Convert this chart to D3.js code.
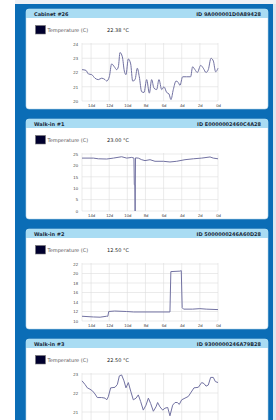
<!DOCTYPE html>
<html>
<head>
<meta charset="utf-8">
<script src="https://cdn.jsdelivr.net/npm/d3@7"></script>
<style>
   html, body { margin: 0; padding: 0; background: #fff; }
   svg { display: block; font-family: "DejaVu Sans", Verdana, sans-serif; }
</style>
</head>
<body>
<div id="chart"></div>
<script>
// sensor panels
const titles = ["Cabinet #26", "Walk-in #1", "Walk-in #2", "Walk-in #3"];
const sensorIds = ["ID 9A000001D0A89428", "ID E0000002460C4A28", "ID 5000000246A60D28", "ID 9300000246A79B28"];
const readings = ["22.38 °C", "23.00 °C", "12.50 °C", "22.50 °C"];
const yDomains = [[20, 24], [0, 25], [10, 22], [20, 23]];
const yTicks = [[20, 21, 22, 23, 24], [0, 5, 10, 15, 20, 25], [10, 12, 14, 16, 18, 20, 22], [20, 21, 22, 23]];
const xTicks = [14, 12, 10, 8, 6, 4, 2, 0];

// days ago / temperature (C)
const cab26Days = [15, 14.56, 14.3, 13.93, 13.57, 13.2, 12.83, 12.46, 12.28, 11.99, 11.73, 11.43, 11.18, 10.99, 10.81, 10.55, 10.33, 10.15, 9.89, 9.63, 9.41, 9.15, 8.9, 8.68, 8.42, 8.16, 7.87, 7.57, 7.32, 7.06, 6.77, 6.51, 6.21, 5.96, 5.66, 5.41, 5.19, 4.93, 4.63, 4.38, 4.19, 3.9, 3.46, 3.02, 2.8, 2.54, 2.28, 1.91, 1.62, 1.32, 1.07, 0.77, 0.51, 0.26, 0];
const cab26Temps = [22.2, 22.15, 21.9, 21.85, 21.6, 21.5, 21.6, 21.5, 21.4, 21.7, 22.6, 22.4, 22.2, 22.4, 23.4, 23.1, 22.1, 21.85, 22.95, 22.6, 21.4, 21.5, 22.3, 21.7, 20.65, 20.6, 21.5, 20.55, 21.5, 20.9, 20.8, 21.5, 20.8, 21.0, 20.6, 20.5, 20.1, 20.8, 21.4, 21.3, 21.1, 21.7, 21.7, 21.7, 22.4, 22.2, 22.0, 22.5, 22.3, 22.0, 22.2, 23.0, 22.8, 22.05, 22.3];

const walk1Days = [15, 13.75, 13.2, 12.28, 11.54, 10.63, 10.07, 9.52, 9.27, 9.23, 9.17, 9.14, 9.1, 8.79, 8.42, 8.05, 7.5, 6.95, 6.03, 5.3, 4.56, 3.64, 2.72, 1.8, 0.88, 0.52, 0];
const walk1Temps = [23.2, 23.2, 22.9, 22.8, 23.2, 23.8, 23.2, 23.5, 23.2, 11.5, 11.5, 0, 23.3, 23.2, 22.5, 22.1, 22.5, 21.8, 21.8, 21.5, 21.8, 22.5, 22.9, 23.2, 23.7, 23.2, 22.9];

const walk2Days = [15, 13.75, 13.0, 12.3, 12.15, 12.05, 11.4, 10.1, 9.3, 5.3, 5.2, 4.2, 4.05, 3.95, 3.8, 2.8, 2.0, 1.3, 0];
const walk2Temps = [11.0, 10.85, 10.8, 11.0, 11.0, 12.0, 12.1, 12.0, 11.9, 11.9, 20.4, 20.5, 20.6, 12.8, 12.5, 12.5, 12.6, 12.5, 12.4];

const walk3Days = [15, 14.67, 14.41, 14.12, 13.82, 13.57, 13.31, 12.83, 12.46, 12.28, 12.1, 11.84, 11.36, 11.1, 10.88, 10.63, 10.37, 10.15, 9.89, 9.63, 9.34, 9.04, 8.79, 8.53, 8.24, 7.94, 7.68, 7.43, 7.13, 6.84, 6.66, 6.4, 6.1, 5.85, 5.55, 5.3, 5.0, 4.74, 4.49, 4.27, 4.01, 3.64, 3.27, 3.02, 2.65, 2.17, 1.8, 1.55, 1.32, 1.07, 0.81, 0.52, 0.29, 0];
const walk3Temps = [22.64, 22.45, 22.27, 22.2, 22.1, 21.95, 21.76, 21.76, 21.73, 21.64, 21.8, 22.27, 22.3, 22.45, 22.9, 22.95, 22.64, 22.27, 22.55, 22.1, 21.64, 21.73, 21.9, 21.55, 21.1, 21.36, 21.73, 21.45, 21.04, 21.27, 21.5, 21.27, 21.1, 21.2, 21.24, 20.8, 21.36, 21.5, 21.5, 21.4, 21.64, 21.73, 21.82, 22.0, 22.27, 22.3, 22.55, 22.5, 22.36, 22.42, 22.82, 22.82, 22.6, 22.55];

const seriesDays = [cab26Days, walk1Days, walk2Days, walk3Days];
const seriesTemps = [cab26Temps, walk1Temps, walk2Temps, walk3Temps];
const curves = [d3.curveMonotoneX, d3.curveLinear, d3.curveLinear, d3.curveLinear];

const Width = 276, Height = 420;
const PanelLeft = 26, PanelRight = 268, PanelHeight = 100, PanelStep = 110, FirstTop = 9;
const PlotLeft = 82, PlotRight = 218, PlotTop = 35, PlotBottom = 92;

const svg = d3.select("#chart").append("svg")
   .attr("width", Width)
   .attr("height", Height);

// page frame
svg.append("rect").attr("x", 15).attr("y", 0).attr("width", 258).attr("height", Height).attr("fill", "#0b6db6");
svg.append("rect").attr("x", 15).attr("y", 0).attr("width", 261).attr("height", 4).attr("fill", "#eef1f5");
svg.append("rect").attr("x", 273).attr("y", 4).attr("width", 3).attr("height", Height).attr("fill", "#dfe6ee");

const x = d3.scaleLinear().domain([15, 0]).range([PlotLeft, PlotRight]);

titles.forEach(function(title, i) {
   const top = FirstTop + i * PanelStep;
   const g = svg.append("g").attr("transform", "translate(0," + top + ")");

   g.append("clipPath").attr("id", "panelclip" + i)
      .append("rect")
      .attr("x", PanelLeft).attr("y", 0)
      .attr("width", PanelRight - PanelLeft).attr("height", PanelHeight);

   g.append("rect")
      .attr("x", PanelLeft).attr("y", 0)
      .attr("width", PanelRight - PanelLeft).attr("height", PanelHeight)
      .attr("rx", 3)
      .attr("fill", "#fff")
      .attr("stroke", "#b9d6ea")
      .attr("stroke-width", 0.6);

   // header bar
   g.append("path")
      .attr("d", "M" + PanelLeft + ",9 V3 Q" + PanelLeft + ",0 " + (PanelLeft + 3) + ",0 H" + (PanelRight - 3) +
         " Q" + PanelRight + ",0 " + PanelRight + ",3 V9 Z")
      .attr("fill", "#a9dcf3");

   g.append("text")
      .attr("x", 34).attr("y", 6.6)
      .attr("font-size", 5).attr("font-weight", "bold").attr("fill", "#1a2a3a")
      .text(title);

   g.append("text")
      .attr("x", 261).attr("y", 6.6)
      .attr("text-anchor", "end")
      .attr("font-size", 5).attr("font-weight", "bold").attr("fill", "#1a2a3a")
      .text(sensorIds[i]);

   // legend
   g.append("rect")
      .attr("x", 35.5).attr("y", 16.5).attr("width", 10).attr("height", 8.5)
      .attr("fill", "#00002e").attr("stroke", "#777").attr("stroke-width", 0.6);

   g.append("text")
      .attr("x", 47.5).attr("y", 23)
      .attr("font-size", 5).attr("fill", "#555")
      .text("Temperature (C)");

   g.append("text")
      .attr("x", 107).attr("y", 23)
      .attr("font-size", 5).attr("fill", "#222")
      .text(readings[i]);

   const y = d3.scaleLinear().domain(yDomains[i]).range([PlotBottom, PlotTop]);

   const plot = g.append("g").attr("clip-path", "url(#panelclip" + i + ")");

   // grid
   plot.append("g")
      .selectAll("line")
      .data(yTicks[i])
      .join("line")
      .attr("x1", PlotLeft).attr("x2", PlotRight)
      .attr("y1", d => y(d)).attr("y2", d => y(d))
      .attr("stroke", "#dedede").attr("stroke-width", 0.6);

   plot.append("g")
      .selectAll("line")
      .data([15].concat(xTicks))
      .join("line")
      .attr("x1", d => x(d)).attr("x2", d => x(d))
      .attr("y1", PlotTop - 1).attr("y2", PlotBottom)
      .attr("stroke", "#dedede").attr("stroke-width", 0.6);

   // axes labels, skipping ones that fall below the window
   const visible = v => top + v < Height - 3;

   const yAxis = d3.axisLeft(y)
      .tickValues(yTicks[i].filter(t => visible(y(t) + 2)))
      .tickFormat(d3.format("d"))
      .tickSize(0).tickPadding(4);
   plot.append("g")
      .attr("transform", "translate(" + PlotLeft + ",0)")
      .call(yAxis)
      .call(a => a.select(".domain").remove())
      .call(a => a.selectAll("text").attr("font-size", 4.2).attr("fill", "#444").attr("font-family", null));

   if (visible(PlotBottom + 6)) {
      const xAxis = d3.axisBottom(x).tickValues(xTicks).tickSize(0).tickPadding(3).tickFormat(d => d + "d");
      plot.append("g")
         .attr("transform", "translate(0," + PlotBottom + ")")
         .call(xAxis)
         .call(a => a.select(".domain").remove())
         .call(a => a.selectAll("text").attr("font-size", 4.2).attr("fill", "#444").attr("font-family", null));
   }

   // series
   const pts = seriesDays[i].map((d, k) => [d, seriesTemps[i][k]]);
   const line = d3.line()
      .x(d => x(d[0]))
      .y(d => y(d[1]))
      .curve(curves[i]);

   plot.append("path")
      .datum(pts)
      .attr("d", line)
      .attr("fill", "none")
      .attr("stroke", "#7272a2")
      .attr("stroke-width", 1);
});
</script>
</body>
</html>
